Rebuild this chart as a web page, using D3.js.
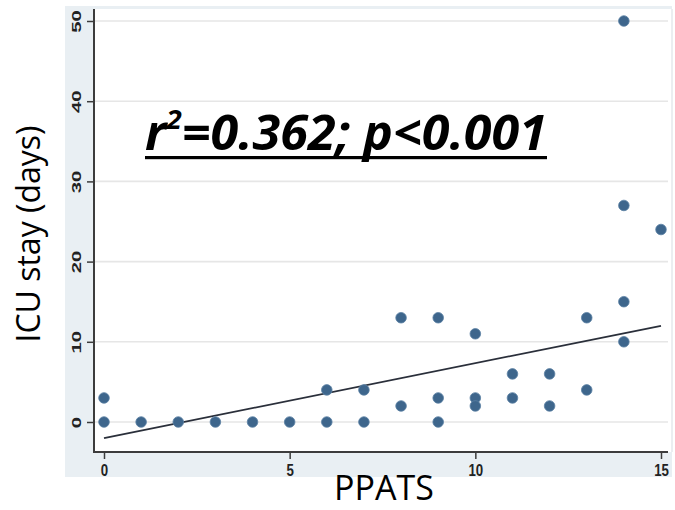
<!DOCTYPE html>
<html><head><meta charset="utf-8">
<script src="https://cdn.jsdelivr.net/npm/d3@7"></script>
<style>html,body{margin:0;padding:0;background:#fff;}</style>
</head><body>
<svg id="chart" width="675" height="510"></svg>
<script>
// data
const ppats = [0,0,1,2,3,4,5,6,6,7,7,8,8,9,9,9,10,10,10,11,11,12,12,13,13,14,14,14,14,15];
const icuDays = [3,0,0,0,0,0,0,0,4,4,0,13,2,13,3,0,11,3,2,6,3,6,2,13,4,15,10,50,27,24];
const fitX = [0,15];
const fitY = [-2.0,12.0];
const xTicks = [0,5,10,15];
const yTicks = [0,10,20,30,40,50];
const annotation = {r: "r", sup: "2", rest: "=0.362; p<0.001"};

const svg = d3.select("#chart");
const x = d3.scaleLinear().domain([0,15]).range([104,661]);
const y = d3.scaleLinear().domain([0,50]).range([422,21]);

// backgrounds
svg.append("rect").attr("x",65).attr("y",6).attr("width",607).attr("height",471).attr("fill","#e9eff3");
svg.append("rect").attr("x",94).attr("y",9).attr("width",578).attr("height",443).attr("fill","#ffffff");
svg.append("line").attr("x1",672).attr("x2",672).attr("y1",9).attr("y2",452).attr("stroke","#e4e8ec").attr("stroke-width",1.5);

// grid
svg.append("g").selectAll("line").data(yTicks).join("line")
  .attr("x1",94).attr("x2",668).attr("y1",d=>y(d)).attr("y2",d=>y(d))
  .attr("stroke","#e6e6e6").attr("stroke-width",1.6);

// axes
const yAxis = d3.axisLeft(y).tickValues(yTicks).tickSize(7).tickPadding(4);
const gy = svg.append("g").attr("transform","translate(94,0)").call(yAxis);
gy.select(".domain").remove();
gy.selectAll(".tick line").attr("stroke","#3c3c3c").attr("stroke-width",1.5);
gy.selectAll(".tick text").remove();
gy.selectAll(".tick").append("text")
  .attr("transform","translate(-13,0) rotate(-90) scale(1.35,0.8)")
  .attr("text-anchor","middle").attr("dy","0")
  .attr("fill","#222").attr("font-family","Liberation Sans, Arial, sans-serif")
  .attr("font-weight","bold").attr("font-size",15)
  .text(d=>d);
svg.append("line").attr("x1",94).attr("x2",94).attr("y1",9).attr("y2",453).attr("stroke","#3c3c3c").attr("stroke-width",2);

const xAxis = d3.axisBottom(x).tickValues(xTicks).tickSize(7);
const gx = svg.append("g").attr("transform","translate(0,452)").call(xAxis);
gx.select(".domain").remove();
gx.selectAll(".tick line").attr("stroke","#3c3c3c").attr("stroke-width",1.5);
gx.selectAll(".tick text").remove();
gx.selectAll(".tick").append("text")
  .attr("transform","translate(0,24) scale(0.78,1)")
  .attr("text-anchor","middle")
  .attr("fill","#222").attr("font-family","Liberation Sans, Arial, sans-serif")
  .attr("font-weight","bold").attr("font-size",17)
  .text(d=>d);
svg.append("line").attr("x1",93).attr("x2",668).attr("y1",452).attr("y2",452).attr("stroke","#3c3c3c").attr("stroke-width",2);

// fit line
const line = d3.line().x(d=>x(d[0])).y(d=>y(d[1]));
svg.append("path").datum(fitX.map((v,i)=>[v,fitY[i]]))
  .attr("d",line).attr("fill","none").attr("stroke","#2a2f3a").attr("stroke-width",1.8);

// points
svg.append("g").selectAll("circle").data(ppats.map((v,i)=>[v,icuDays[i]])).join("circle")
  .attr("cx",d=>x(d[0])).attr("cy",d=>y(d[1])).attr("r",5.3)
  .attr("fill","#3e668c").attr("stroke","#5a80a3").attr("stroke-width",0.8);

// annotation
const ann = svg.append("text").attr("x",145).attr("y",150)
  .attr("font-family","Open Sans, sans-serif").attr("font-weight","bold").attr("font-style","italic")
  .attr("font-size",48).attr("fill","#000")
  .attr("textLength",402).attr("lengthAdjust","spacingAndGlyphs");
ann.append("tspan").text(annotation.r);
ann.append("tspan").attr("font-size",27).attr("dy",-21).text(annotation.sup);
ann.append("tspan").attr("dy",21).text(annotation.rest);
svg.append("rect").attr("x",145).attr("y",156).attr("width",402).attr("height",3.2).attr("fill","#000");

// axis titles
svg.append("text").attr("transform","translate(40,234) rotate(-90)")
  .attr("text-anchor","middle").attr("font-family","Open Sans, sans-serif")
  .attr("font-size",32).attr("fill","#000").text("ICU stay (days)");
svg.append("text").attr("x",384).attr("y",500)
  .attr("text-anchor","middle").attr("font-family","Open Sans, sans-serif")
  .attr("font-size",34).attr("fill","#000").text("PPATS");
</script>
</body></html>
